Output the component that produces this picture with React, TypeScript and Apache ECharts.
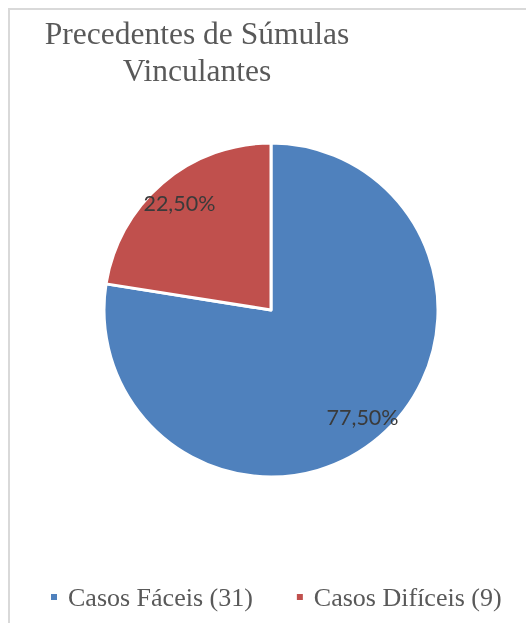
import React, { useEffect, useRef } from "react";
import * as echarts from "echarts";

const categories = ["Casos Fáceis", "Casos Difíceis"];
const values = [31, 9];
const colors = ["#4F81BD", "#C0504D"];
const titleLines = ["Precedentes de Súmulas", "Vinculantes"];

export default function App() {
  const ref = useRef<HTMLDivElement>(null);
  useEffect(() => {
    if (!ref.current) return;
    const chart = echarts.init(ref.current, undefined, { renderer: "svg" });
    const data = categories.map((name, i) => ({
      name,
      value: values[i],
      itemStyle: { color: colors[i] },
    }));
    const labelData = categories.map((name, i) => ({
      name,
      value: values[i],
      itemStyle: { color: "rgba(0,0,0,0)" },
    }));
    const center = [271, 310];
    chart.setOption({
      animation: false,
      graphic: [
        {
          type: "text",
          x: 197,
          y: 15,
          style: {
            text: titleLines.join("\n"),
            font: '31.5px "Liberation Serif", "Times New Roman", serif',
            fill: "#595959",
            textAlign: "center",
            textVerticalAlign: "top",
            lineHeight: 37,
          },
        },
      ],
      legend: {
        left: 44,
        top: 577,
        orient: "horizontal",
        itemWidth: 8,
        itemHeight: 8,
        itemGap: 42,
        icon: "rect",
        data: categories.map((name, i) => ({ name, itemStyle: { color: colors[i] } })),
        formatter: (name: string) => `${name} (${values[categories.indexOf(name)]})`,
        textStyle: {
          fontFamily: '"Liberation Serif", "Times New Roman", serif',
          fontSize: 26,
          color: "#595959",
          lineHeight: 30,
          padding: [0, 0, 0, 5],
        },
      },
      series: [
        {
          type: "pie",
          center,
          radius: [0, 167],
          startAngle: 90,
          clockwise: true,
          silent: true,
          label: { show: false },
          labelLine: { show: false },
          itemStyle: { borderColor: "#ffffff", borderWidth: 3 },
          emphasis: { disabled: true },
          data,
        },
        {
          type: "pie",
          center,
          radius: [109, 167],
          startAngle: 90,
          clockwise: true,
          silent: true,
          legendHoverLink: false,
          label: {
            show: true,
            position: "inside",
            fontFamily: "Lato, Carlito, Calibri, sans-serif",
            fontSize: 21.5,
            color: "#3a3a3a",
            formatter: (p: any) => `${p.percent.toFixed(2).replace(".", ",")}%`,
          },
          labelLine: { show: false },
          emphasis: { disabled: true },
          data: labelData,
        },
      ],
    });
    return () => chart.dispose();
  }, []);
  return (
    <>
      <div
        style={{
          position: "fixed",
          left: 8,
          top: 8,
          width: 518,
          height: 615,
          boxSizing: "border-box",
          borderLeft: "2px solid #D9D9D9",
          borderTop: "2px solid #D9D9D9",
        }}
      />
      <div ref={ref} style={{ position: "fixed", left: 0, top: 0, width: 526, height: 623 }} />
    </>
  );
}
